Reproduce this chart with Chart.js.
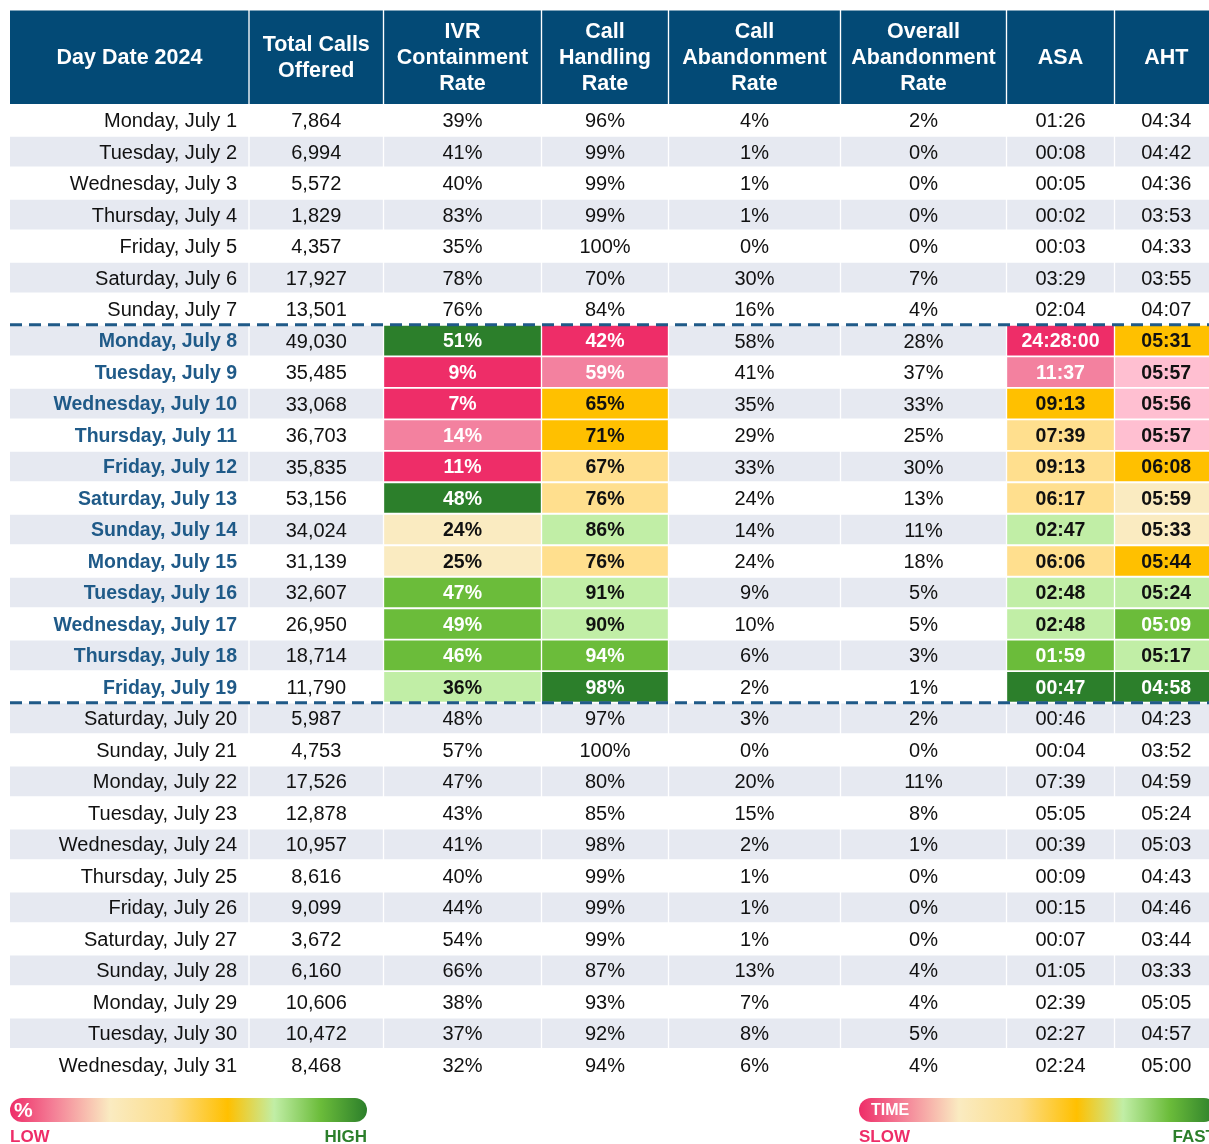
<!DOCTYPE html>
<html>
<head>
<meta charset="utf-8">
<script src="https://cdn.jsdelivr.net/npm/chart.js@4.4.1/dist/chart.umd.min.js"></script>
<style>
  html, body { margin: 0; padding: 0; background: #fff; }
  #wrap { width: 1209px; height: 1144px; position: relative; }
</style>
</head>
<body>
<div id="wrap"><canvas id="tbl"></canvas></div>
<script>
// ---- table data ----
const headers = [
    ['Day Date 2024'],
    ['Total Calls', 'Offered'],
    ['IVR', 'Containment', 'Rate'],
    ['Call', 'Handling', 'Rate'],
    ['Call', 'Abandonment', 'Rate'],
    ['Overall', 'Abandonment', 'Rate'],
    ['ASA'],
    ['AHT']
];

const days = [
    'Monday, July 1', 'Tuesday, July 2', 'Wednesday, July 3', 'Thursday, July 4', 'Friday, July 5',
    'Saturday, July 6', 'Sunday, July 7', 'Monday, July 8', 'Tuesday, July 9', 'Wednesday, July 10',
    'Thursday, July 11', 'Friday, July 12', 'Saturday, July 13', 'Sunday, July 14', 'Monday, July 15',
    'Tuesday, July 16', 'Wednesday, July 17', 'Thursday, July 18', 'Friday, July 19', 'Saturday, July 20',
    'Sunday, July 21', 'Monday, July 22', 'Tuesday, July 23', 'Wednesday, July 24', 'Thursday, July 25',
    'Friday, July 26', 'Saturday, July 27', 'Sunday, July 28', 'Monday, July 29', 'Tuesday, July 30',
    'Wednesday, July 31'
];
const totalCalls = [7864, 6994, 5572, 1829, 4357, 17927, 13501, 49030, 35485, 33068, 36703, 35835, 53156, 34024, 31139,
    32607, 26950, 18714, 11790, 5987, 4753, 17526, 12878, 10957, 8616, 9099, 3672, 6160, 10606, 10472, 8468];
const ivrRate = [39, 41, 40, 83, 35, 78, 76, 51, 9, 7, 14, 11, 48, 24, 25, 47, 49, 46, 36, 48, 57, 47, 43, 41, 40, 44, 54, 66, 38, 37, 32];
const handlingRate = [96, 99, 99, 99, 100, 70, 84, 42, 59, 65, 71, 67, 76, 86, 76, 91, 90, 94, 98, 97, 100, 80, 85, 98, 99, 99, 99, 87, 93, 92, 94];
const abandonRate = [4, 1, 1, 1, 0, 30, 16, 58, 41, 35, 29, 33, 24, 14, 24, 9, 10, 6, 2, 3, 0, 20, 15, 2, 1, 1, 1, 13, 7, 8, 6];
const overallAbandon = [2, 0, 0, 0, 0, 7, 4, 28, 37, 33, 25, 30, 13, 11, 18, 5, 5, 3, 1, 2, 0, 11, 8, 1, 0, 0, 0, 4, 4, 5, 4];
const asa = ['01:26', '00:08', '00:05', '00:02', '00:03', '03:29', '02:04', '24:28:00', '11:37', '09:13', '07:39', '09:13',
    '06:17', '02:47', '06:06', '02:48', '02:48', '01:59', '00:47', '00:46', '00:04', '07:39', '05:05', '00:39', '00:09',
    '00:15', '00:07', '01:05', '02:39', '02:27', '02:24'];
const aht = ['04:34', '04:42', '04:36', '03:53', '04:33', '03:55', '04:07', '05:31', '05:57', '05:56', '05:57', '06:08',
    '05:59', '05:33', '05:44', '05:24', '05:09', '05:17', '04:58', '04:23', '03:52', '04:59', '05:24', '05:03', '04:43',
    '04:46', '03:44', '03:33', '05:05', '04:57', '05:00'];

// highlighted week (rows 7..18) with heat-map colour keys per column
const highlightStart = 7;
const highlightEnd = 19;
const heat = {
    2: ['dg', 'r', 'r', 'lp', 'r', 'dg', 'cr', 'cr', 'mg', 'mg', 'mg', 'lg'],
    3: ['r', 'lp', 'or', 'or', 'ye', 'ye', 'lg', 'ye', 'lg', 'lg', 'mg', 'dg'],
    6: ['r', 'lp', 'or', 'ye', 'ye', 'ye', 'lg', 'ye', 'lg', 'lg', 'mg', 'dg'],
    7: ['or', 'pp', 'pp', 'pp', 'or', 'cr', 'cr', 'or', 'lg', 'mg', 'lg', 'dg']
};

// ---- styles / layout ----
const palette = {
    r: '#EE2D68', lp: '#F3819F', pp: '#FFBFD1', or: '#FFC000', ye: '#FFDF8E',
    cr: '#FAEBC1', lg: '#C1EEA6', mg: '#6BBC3A', dg: '#2C7F2B'
};
const whiteText = ['r', 'lp', 'mg', 'dg'];
const headerColor = '#034A76';
const stripeColor = '#E6E9F1';
const blueText = '#1F5A88';
const colEdges = [10, 249, 383.5, 541.5, 668.5, 840.5, 1006.5, 1114.5, 1218];
const FONT = '"Liberation Sans", Arial, sans-serif';

const colText = [
    days,
    totalCalls.map(v => v.toLocaleString('en-US')),
    ivrRate.map(v => v + '%'),
    handlingRate.map(v => v + '%'),
    abandonRate.map(v => v + '%'),
    overallAbandon.map(v => v + '%'),
    asa,
    aht
];

function heatKey(col, row) {
    if (!heat[col] || row < highlightStart || row >= highlightEnd) return null;
    return heat[col][row - highlightStart];
}

// one floating-bar dataset per column
const cellSets = colText.map((vals, c) => ({
    type: 'bar',
    data: vals.map((v, i) => ({ y: i + 0.5, x: [colEdges[c] + (c === 0 ? 0 : 1), colEdges[c + 1] - 1] })),
    backgroundColor: vals.map((v, i) => {
        const k = heatKey(c, i);
        if (k) return palette[k];
        return i % 2 === 1 ? stripeColor : 'rgba(0,0,0,0)';
    }),
    barThickness: 29,
    grouped: false,
    order: 2
}));

const headerSet = {
    type: 'bar',
    data: headers.map((h, c) => ({ y: -1.5, x: [colEdges[c] + (c === 0 ? 0 : 1), colEdges[c + 1] - 1] })),
    backgroundColor: headerColor,
    barThickness: 93,
    grouped: false,
    order: 2
};

const dashLines = [highlightStart, highlightEnd].map(r => ({
    type: 'line',
    data: [{ x: 10, y: r }, { x: 1209, y: r }],
    borderColor: blueText,
    borderWidth: 3,
    borderDash: [12, 7],
    pointRadius: 0,
    order: 1
}));

const textPlugin = {
    id: 'cellText',
    afterDatasetsDraw(chart) {
        const { ctx, scales: { x, y } } = chart;
        ctx.save();
        ctx.textBaseline = 'middle';
        // header
        ctx.fillStyle = '#fff';
        ctx.font = 'bold 21.5px ' + FONT;
        ctx.textAlign = 'center';
        headers.forEach((lines, c) => {
            const cx = x.getPixelForValue((colEdges[c] + colEdges[c + 1]) / 2);
            const cy = y.getPixelForValue(-1.5) + 1;
            lines.forEach((ln, j) => {
                ctx.fillText(ln, cx, cy + (j - (lines.length - 1) / 2) * 26);
            });
        });
        // body
        colText.forEach((vals, c) => {
            vals.forEach((v, i) => {
                const cy = y.getPixelForValue(i + 0.5) + 1.5;
                const hl = i >= highlightStart && i < highlightEnd;
                const k = heatKey(c, i);
                let bold = false;
                let color = '#111';
                if (k) {
                    bold = true;
                    color = whiteText.includes(k) ? '#fff' : '#111';
                } else if (c === 0 && hl) {
                    bold = true;
                    color = blueText;
                }
                ctx.font = bold ? 'bold 19.5px ' + FONT : '20px ' + FONT;
                ctx.fillStyle = color;
                if (c === 0) {
                    ctx.textAlign = 'right';
                    ctx.fillText(v, x.getPixelForValue(colEdges[1]) - 12, cy);
                } else {
                    ctx.textAlign = 'center';
                    ctx.fillText(v, x.getPixelForValue((colEdges[c] + colEdges[c + 1]) / 2), cy);
                }
            });
        });
        ctx.restore();
    },
    afterDraw(chart) {
        // colour-scale legends below the table
        const ctx = chart.ctx;
        const stops = [[0, palette.r], [0.12, '#F47E96'], [0.28, '#FAEBC1'], [0.45, '#FCDD8A'],
            [0.61, palette.or], [0.74, palette.lg], [0.87, palette.mg], [1, palette.dg]];
        function bar(x0, x1, label, lblSize, lo, hi) {
            const g = ctx.createLinearGradient(x0, 0, x1, 0);
            stops.forEach(s => g.addColorStop(s[0], s[1]));
            ctx.fillStyle = g;
            ctx.beginPath();
            ctx.roundRect(x0, 1098, x1 - x0, 24, 12);
            ctx.fill();
            ctx.fillStyle = '#fff';
            ctx.textBaseline = 'middle';
            ctx.textAlign = 'left';
            ctx.font = 'bold ' + lblSize + 'px ' + FONT;
            ctx.fillText(label, x0 + (label === '%' ? 4 : 12), 1111);
            ctx.font = 'bold 17px ' + FONT;
            ctx.textBaseline = 'alphabetic';
            ctx.fillStyle = palette.r;
            ctx.fillText(lo, x0, 1142);
            ctx.textAlign = 'right';
            ctx.fillStyle = palette.dg;
            ctx.fillText(hi, x1, 1142);
        }
        ctx.save();
        bar(10, 367, '%', 21, 'LOW', 'HIGH');
        bar(859, 1216, 'TIME', 16, 'SLOW', 'FAST');
        ctx.restore();
    }
};

new Chart(document.getElementById('tbl'), {
    data: { datasets: [headerSet, ...cellSets, ...dashLines] },
    options: {
        indexAxis: 'y',
        responsive: true,
        maintainAspectRatio: false,
        animation: false,
        events: [],
        layout: { padding: { left: 10, right: 0, top: 10, bottom: 63.5 } },
        scales: {
            x: { type: 'linear', min: 10, max: 1209, offset: false, display: false },
            y: { type: 'linear', min: -3, max: 31, reverse: true, offset: false, display: false }
        },
        plugins: { legend: { display: false }, tooltip: { enabled: false } }
    },
    plugins: [textPlugin]
});
</script>
</body>
</html>
